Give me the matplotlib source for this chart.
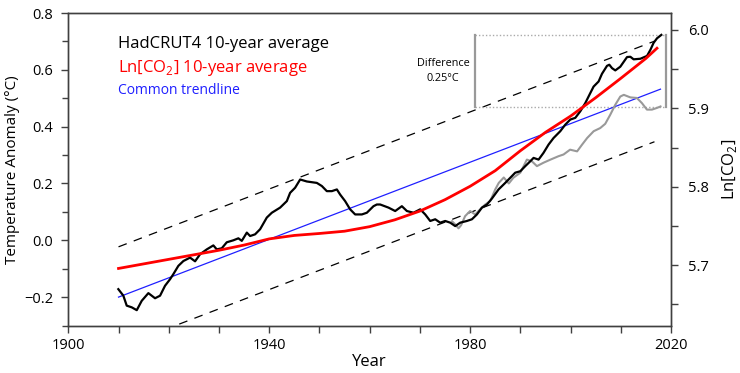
import matplotlib
matplotlib.use("Agg")
import matplotlib.pyplot as plt
from matplotlib.ticker import MultipleLocator, FixedLocator, FuncFormatter

plt.rcParams['font.family'] = ['Open Sans', 'DejaVu Sans']
plt.rcParams['mathtext.fontset'] = 'custom'
plt.rcParams['mathtext.rm'] = 'Open Sans'

# ---------------- data ----------------
had_years = [1909.96, 1910.96, 1911.63, 1912.63, 1913.63, 1914.62, 1915.94, 1917.27, 1918.27, 1919.26,
             1920.26, 1920.92, 1921.91, 1922.91, 1924.24, 1925.24, 1926.24, 1927.57, 1928.88, 1929.56,
             1930.56, 1931.55, 1932.87, 1933.86, 1934.54, 1935.54, 1936.2, 1937.19, 1938.19, 1939.52,
             1940.52, 1942.17, 1943.51, 1944.16, 1945.16, 1946.16, 1947.49, 1949.48, 1950.48, 1951.47,
             1952.47, 1953.47, 1954.12, 1955.11, 1956.11, 1957.11, 1958.45, 1959.44, 1960.76, 1961.43,
             1962.09, 1963.75, 1965.08, 1966.41, 1967.41, 1968.73, 1970.06, 1971.06, 1972.05, 1973.05,
             1974.04, 1975.04, 1976.04, 1977.03, 1978.03, 1979.36, 1980.36, 1981.35, 1982.35, 1983.35,
             1984.34, 1985.66, 1986.99, 1987.99, 1988.98, 1989.98, 1990.98, 1991.97, 1992.63, 1993.63,
             1994.62, 1995.62, 1996.61, 1997.95, 1998.94, 1999.94, 2000.94, 2001.93, 2002.93, 2003.92,
             2004.58, 2005.58, 2006.25, 2007.25, 2007.71, 2008.25, 2008.9, 2009.9, 2011.24, 2011.9,
             2012.55, 2013.89, 2015.22, 2015.88, 2016.53, 2017.21, 2018.07]
had_vals = [-0.172, -0.195, -0.230, -0.236, -0.246, -0.213, -0.186, -0.204, -0.195, -0.160,
            -0.137, -0.119, -0.090, -0.073, -0.061, -0.074, -0.049, -0.032, -0.018, -0.032,
            -0.028, -0.007, 0.000, 0.007, -0.002, 0.027, 0.015, 0.021, 0.039, 0.080,
            0.097, 0.115, 0.138, 0.167, 0.185, 0.214, 0.207, 0.202, 0.191, 0.173,
            0.173, 0.179, 0.161, 0.138, 0.109, 0.091, 0.091, 0.097, 0.120, 0.126,
            0.126, 0.115, 0.103, 0.120, 0.103, 0.097, 0.109, 0.091, 0.068, 0.074,
            0.062, 0.068, 0.062, 0.050, 0.062, 0.068, 0.074, 0.091, 0.115, 0.126,
            0.147, 0.179, 0.202, 0.220, 0.238, 0.243, 0.261, 0.278, 0.290, 0.284,
            0.308, 0.337, 0.360, 0.384, 0.407, 0.425, 0.431, 0.454, 0.483, 0.518,
            0.541, 0.559, 0.586, 0.614, 0.618, 0.606, 0.598, 0.611, 0.645, 0.646,
            0.637, 0.639, 0.649, 0.670, 0.695, 0.711, 0.723]

gray_years = [1976.4, 1977.03, 1977.69, 1978.2, 1979.0, 1980.0, 1981.0, 1982.0, 1983.0, 1984.0,
              1985.0, 1985.7, 1986.7, 1987.7, 1988.6, 1990.0, 1991.3, 1992.3, 1993.3, 1994.6,
              1996.0, 1997.6, 1998.6, 1999.9, 2001.3, 2002.3, 2003.3, 2004.6, 2005.9, 2006.9,
              2007.9, 2008.9, 2009.9, 2010.6, 2011.9, 2013.2, 2014.2, 2015.2, 2016.2, 2017.2, 2017.9]
gray_vals = [0.067, 0.056, 0.042, 0.053, 0.085, 0.103, 0.091, 0.109, 0.126, 0.138,
             0.179, 0.202, 0.221, 0.200, 0.220, 0.238, 0.284, 0.278, 0.261, 0.273,
             0.284, 0.296, 0.302, 0.319, 0.313, 0.337, 0.360, 0.384, 0.395, 0.410,
             0.442, 0.477, 0.506, 0.512, 0.503, 0.501, 0.483, 0.460, 0.460, 0.466, 0.471]

co2_years = [1910, 1915, 1920, 1925, 1930, 1935, 1940, 1945, 1950, 1955, 1960, 1965,
             1970, 1975, 1980, 1985, 1990, 1995, 2000, 2005, 2010, 2015, 2017.2]
ln_co2 = [5.6958, 5.7016, 5.7074, 5.7132, 5.7190, 5.7256, 5.7335, 5.7379, 5.7404, 5.7433,
          5.7491, 5.7578, 5.7690, 5.7835, 5.8006, 5.8205, 5.8459, 5.8694, 5.8901, 5.9136,
          5.9383, 5.9637, 5.9767]

trend_years = [1910, 2017.9]
trend_vals = [-0.200, 0.532]
band_years = [1910, 2016.7]
band_offset = 0.177

diff_years = [1981.0, 2019.0]
diff_low, diff_high = 0.469, 0.723

# ---------------- figure ----------------
fig = plt.figure(figsize=(7.4, 3.73), dpi=100)
ax = fig.add_axes([0.0923, 0.1273, 0.8145, 0.8378])
ax2 = ax.twinx()

spine_col = '#404040'
for a in (ax, ax2):
    for s in a.spines.values():
        s.set_color(spine_col)
        s.set_linewidth(1.0)

ax.set_xlim(1900, 2020)
ax.set_ylim(-0.3, 0.8)
ax2.set_ylim(5.623, 6.0216)

# trend + band
slope = (trend_vals[1] - trend_vals[0]) / (trend_years[1] - trend_years[0])
band_base = [trend_vals[0] + slope * (y - trend_years[0]) for y in band_years]
ax.plot(band_years, [b + band_offset for b in band_base], color='black', lw=0.9, dashes=(7, 6))
ax.plot(band_years, [b - band_offset for b in band_base], color='black', lw=0.9, dashes=(7, 6))
ax.plot(trend_years, trend_vals, color='#1f1fff', lw=0.9, zorder=3)

# difference box
ax.plot(diff_years, [diff_high, diff_high], color='#aaaaaa', lw=1.0, ls=(0, (1, 1.5)))
ax.plot(diff_years, [diff_low, diff_low], color='#aaaaaa', lw=1.0, ls=(0, (1, 1.5)))
for dy in diff_years:
    ax.plot([dy, dy], [diff_low, diff_high], color='#999999', lw=1.6)
ax.text(1974.6, (diff_low + diff_high) / 2, 'Difference\n0.25°C', ha='center', va='center',
        fontsize=7.8, linespacing=1.5)

# series
ax.plot(gray_years, gray_vals, color='#999999', lw=1.5, zorder=4)
ax.plot(had_years, had_vals, color='black', lw=1.6, zorder=5)
ax2.plot(co2_years, ln_co2, color='#ff0000', lw=2.0, zorder=6)

# ticks
ax.xaxis.set_major_locator(MultipleLocator(10))
ax.xaxis.set_major_formatter(FuncFormatter(
    lambda v, p: f'{int(round(v))}' if (int(round(v)) - 1900) % 40 == 0 else ''))
ax.yaxis.set_major_locator(FixedLocator([-0.2, 0.0, 0.2, 0.4, 0.6, 0.8]))
ax.yaxis.set_minor_locator(FixedLocator([-0.3, -0.1, 0.1, 0.3, 0.5, 0.7]))
ax.yaxis.set_major_formatter(FuncFormatter(lambda v, p: f'{v:.1f}'.replace('-', '\u2212')))
ax2.yaxis.set_major_locator(FixedLocator([5.7, 5.8, 5.9, 6.0]))
ax2.yaxis.set_minor_locator(FixedLocator([5.65, 5.75, 5.85, 5.95]))
ax2.yaxis.set_major_formatter(FuncFormatter(lambda v, p: f'{v:.1f}'))

ax.tick_params(axis='both', which='major', direction='out', length=5, width=1.0, color=spine_col,
               labelsize=10.5, pad=4, top=False, right=False)
ax.tick_params(axis='both', which='minor', direction='out', length=4, width=1.0, color=spine_col)
ax.tick_params(axis='y', pad=6)
ax2.tick_params(axis='y', which='major', direction='out', length=5, width=1.0, color=spine_col,
                labelsize=10.5, pad=7)
ax2.tick_params(axis='y', which='minor', direction='out', length=5, width=1.0, color=spine_col)

ax.set_xlabel('Year', fontsize=12, labelpad=1)
ax.set_ylabel('Temperature Anomaly (°C)', fontsize=11, labelpad=3)
ax2.set_ylabel('Ln[CO$_{\\mathregular{2}}$]', fontsize=12, labelpad=8)

# legend texts
ax.text(0.083, 0.900, 'HadCRUT4 10-year average', transform=ax.transAxes, color='black',
        fontsize=12, va='center', ha='left')
ax.text(0.083, 0.824, 'Ln[CO$_{\\mathregular{2}}$] 10-year average', transform=ax.transAxes,
        color='#ff0000', fontsize=12, va='center', ha='left')
ax.text(0.083, 0.751, 'Common trendline', transform=ax.transAxes, color='#1f1fff',
        fontsize=10, va='center', ha='left')

fig.savefig('out.png', dpi=100)
